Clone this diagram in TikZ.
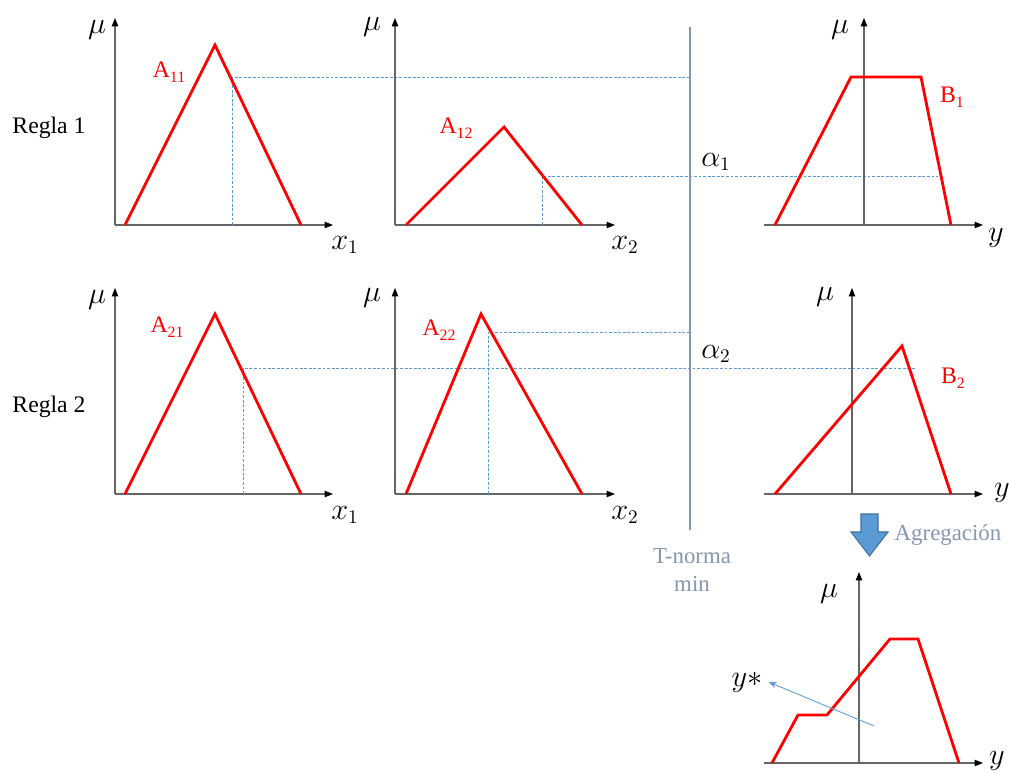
\documentclass[tikz,border=0pt]{standalone}
\usepackage{fontspec}
\setmainfont{Liberation Serif}
\usetikzlibrary{arrows.meta}
\definecolor{mfred}{HTML}{FF0000}
\definecolor{cutblue}{HTML}{5B9BD5}
\definecolor{normgray}{HTML}{8497B0}
\definecolor{aggblue}{HTML}{41719C}
\tikzstyle{axis} = [-{Triangle[length=1.7mm, width=1.3mm, color=black]}, draw=black!60, line width=0.6pt]
\tikzstyle{mf} = [draw=mfred, line width=1.6pt, line join=miter]
\tikzstyle{cut} = [draw=cutblue, dash pattern=on 1.6pt off 1pt, line width=0.5pt]
\newcommand{\setname}[2]{#1\raisebox{-0.45ex}{\fontsize{9}{9}\selectfont #2}}

\begin{document}
\begin{tikzpicture}[x=0.02cm, y=-0.02cm,
    mu/.style={font=\fontsize{16}{18}\selectfont},
    var/.style={font=\fontsize{16}{18}\selectfont},
    setlbl/.style={text=mfred, font=\fontsize{13.5}{15}\selectfont},
    rule/.style={font=\fontsize{13.5}{15}\selectfont},
    note/.style={text=normgray, font=\fontsize{13}{15.5}\selectfont, align=center}
  ]
    \useasboundingbox (0,0) rectangle (1009,773);

    % ── Regla 1
    \node[rule] (r1) at (49,128) {Regla 1};
    \draw[axis] (115,225) -- (115,18);
    \draw[axis] (115,225) -- (333,225);
    \draw[cut] (232,225) -- (232,77) -- (690,77);
    \draw[mf] (125,225) -- (215,45) -- (301,225);
    \node[mu] (mu11) at (97,30) {$\mu$};
    \node[setlbl] (A11) at (169,72) {\setname{A}{11}};
    \node[var] (x11) at (345,245) {$x_1$};

    \draw[axis] (395,225) -- (395,18);
    \draw[axis] (395,225) -- (615,225);
    \draw[cut] (542,225) -- (542,176) -- (938,176);
    \draw[mf] (406,225) -- (504,127) -- (582,225);
    \node[mu] (mu12) at (372,27) {$\mu$};
    \node[setlbl] (A12) at (456,128) {\setname{A}{12}};
    \node[var] (x12) at (625,245) {$x_2$};

    \draw[axis] (864,225) -- (864,18);
    \draw[axis] (764,225) -- (983,225);
    \draw[mf] (775,225) -- (851,77) -- (921,77) -- (951,225);
    \node[mu] (mu13) at (840,30) {$\mu$};
    \node[setlbl] (B1) at (952,97) {\setname{B}{1}};
    \node[var] (y1) at (996,238) {$y$};

    % ── Regla 2
    \node[rule] (r2) at (49,407) {Regla 2};
    \draw[axis] (115,494) -- (115,288);
    \draw[axis] (115,494) -- (333,494);
    \draw[cut] (243,494) -- (243,368) -- (915,368);
    \draw[mf] (125,494) -- (215,314) -- (301,494);
    \node[mu] (mu21) at (97,300) {$\mu$};
    \node[setlbl] (A21) at (167,327) {\setname{A}{21}};
    \node[var] (x21) at (345,515) {$x_1$};

    \draw[axis] (395,494) -- (395,288);
    \draw[axis] (395,494) -- (615,494);
    \draw[cut] (488,494) -- (488,332) -- (690,332);
    \draw[mf] (406,494) -- (481,314) -- (582,494);
    \node[mu] (mu22) at (372,298) {$\mu$};
    \node[setlbl] (A22) at (439,330) {\setname{A}{22}};
    \node[var] (x22) at (625,515) {$x_2$};

    \draw[axis] (852,494) -- (852,288);
    \draw[axis] (764,494) -- (983,494);
    \draw[mf] (775,494) -- (902,346) -- (951,494);
    \node[mu] (mu23) at (825,297) {$\mu$};
    \node[setlbl] (B2) at (953,378) {\setname{B}{2}};
    \node[var] (y2) at (1002,493) {$y$};

    % ── T-norma
    \draw[normgray, line width=1.6pt] (690,27) -- (690,530);
    \node[mu] (a1) at (716,162) {$\alpha_1$};
    \node[mu] (a2) at (716,354) {$\alpha_2$};
    \node[note] (tn) at (692,570) {T-norma\\min};

    % ── Agregacion
    \draw[fill=cutblue, draw=aggblue, line width=0.6pt]
      (861,514) -- (878,514) -- (878,532) -- (888,532) -- (869.5,556)
      -- (851,532) -- (861,532) -- cycle;
    \node[note] (agg) at (948,535) {Agregación};

    \draw[axis] (859,763) -- (859,572);
    \draw[axis] (764,763) -- (983,763);
    \draw[mf] (772,763) -- (798,715) -- (827,715) -- (890,639) -- (918,639) -- (959,763);
    \node[mu] (mu3) at (829,594) {$\mu$};
    \node[var] (ystar) at (747,682) {$y*$};
    \coordinate (cg) at (874,726);
    \draw[cutblue, line width=0.5pt, -{Stealth[length=1.6mm, width=1.2mm]}] (cg) -- (ystar.east);
    \node[var] (y3) at (997,761) {$y$};
  \end{tikzpicture}
\end{document}
